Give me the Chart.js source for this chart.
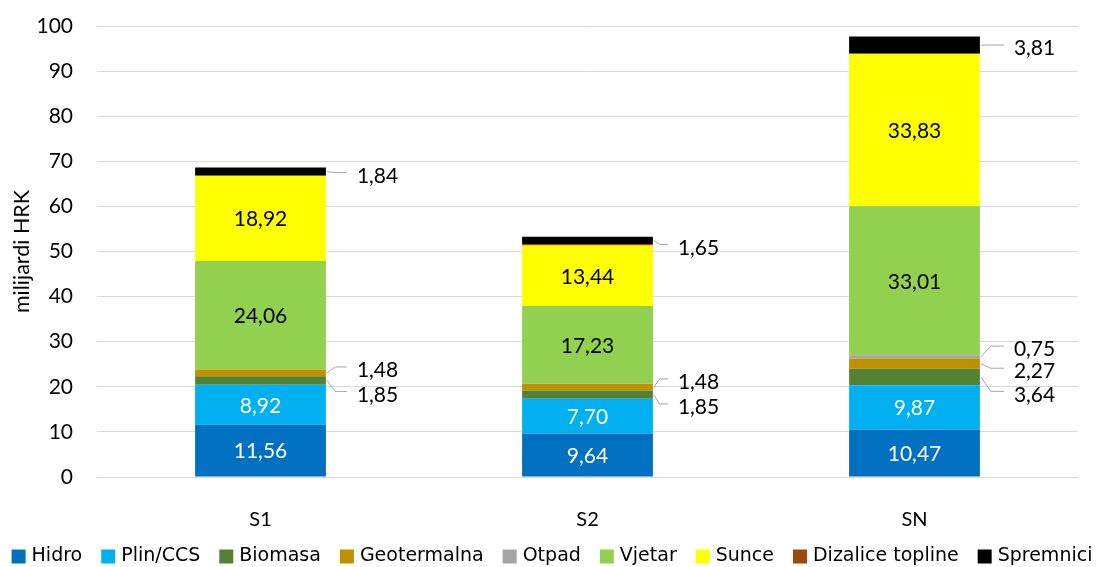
<!DOCTYPE html>
<html>
<head>
<meta charset="utf-8">
<script src="https://cdn.jsdelivr.net/npm/chart.js@4/dist/chart.umd.min.js"></script>
<style>
html,body{margin:0;padding:0;background:#fff;}
#wrap{width:1098px;height:567px;}
</style>
</head>
<body>
<div id="wrap"><canvas id="c" width="1098" height="567"></canvas></div>
<script>
// ---- data ----
const categories = ['S1', 'S2', 'SN'];
const seriesNames = ['Hidro', 'Plin/CCS', 'Biomasa', 'Geotermalna', 'Otpad', 'Vjetar', 'Sunce', 'Dizalice topline', 'Spremnici'];
const hidro       = [11.56, 9.64, 10.47];
const plinCCS     = [8.92, 7.70, 9.87];
const biomasa     = [1.85, 1.85, 3.64];
const geotermalna = [1.48, 1.48, 2.27];
const otpad       = [0, 0, 0.75];
const vjetar      = [24.06, 17.23, 33.01];
const sunce       = [18.92, 13.44, 33.83];
const dizalice    = [0, 0.3, 0];
const spremnici   = [1.84, 1.65, 3.81];
const yTicks = [0, 10, 20, 30, 40, 50, 60, 70, 80, 90, 100];

// ---- styles ----
const colors = ['#0070C0', '#00B0F0', '#548235', '#BF9000', '#A5A5A5', '#92D050', '#FFFF00', '#9E480E', '#000000'];
const values = [hidro, plinCCS, biomasa, geotermalna, otpad, vjetar, sunce, dizalice, spremnici];
// inside labels: dataset index -> text colour
const insideLabels = {0: '#FFFFFF', 1: '#FFFFFF', 5: '#000000', 6: '#000000'};
// outside labels with leader lines: per category, dataset index -> vertical offset (px) of label
const outsideLabels = [
  {dx: 31, items: {8: 3.5, 3: -3.5, 2: 13.5}},
  {dx: 25, items: {8: 6.6, 3: -5.7, 2: 11.8}},
  {dx: 34, items: {8: 2.3, 4: -8.3, 3: 7, 2: 16.8}}
];
const labelFont = '21px Lato, "Open Sans", sans-serif';

const fmt = v => v.toFixed(2).replace('.', ',');

const labelPlugin = {
  id: 'labels',
  afterDatasetsDraw(chart) {
    const ctx = chart.ctx;
    ctx.save();
    ctx.font = labelFont;
    ctx.textBaseline = 'middle';
    Object.keys(insideLabels).forEach(k => {
      const di = +k;
      const meta = chart.getDatasetMeta(di);
      meta.data.forEach((el, j) => {
        const v = chart.data.datasets[di].data[j];
        ctx.fillStyle = insideLabels[k];
        ctx.textAlign = 'center';
        ctx.fillText(fmt(v), el.x, (el.y + el.base) / 2 + 1);
      });
    });
    outsideLabels.forEach((cfg, j) => {
      Object.keys(cfg.items).forEach(k => {
        const di = +k;
        const el = chart.getDatasetMeta(di).data[j];
        const v = chart.data.datasets[di].data[j];
        const edge = el.x + el.width / 2;
        const segY = (el.y + el.base) / 2;
        const ly = segY + cfg.items[k];
        const lineY = ly - 2.5;
        const endX = edge + cfg.dx - 10;
        const elbowX = edge + (cfg.dx - 10) * 0.45;
        ctx.strokeStyle = '#A6A6A6';
        ctx.lineWidth = 1;
        ctx.beginPath();
        ctx.moveTo(edge + 1, segY);
        ctx.lineTo(elbowX, lineY);
        ctx.lineTo(endX, lineY);
        ctx.stroke();
        ctx.fillStyle = '#000000';
        ctx.textAlign = 'left';
        ctx.fillText(fmt(v), edge + cfg.dx, ly + 1);
      });
    });
    ctx.restore();
  }
};

const legendPlugin = {
  id: 'customLegend',
  afterDraw(chart) {
    const ctx = chart.ctx;
    ctx.save();
    ctx.font = '19px "DejaVu Sans", sans-serif';
    ctx.textBaseline = 'middle';
    const box = 14, boxGap = 6, itemGap = 19;
    const ds = chart.data.datasets;
    const widths = ds.map(d => ctx.measureText(d.label).width);
    let total = widths.reduce((a, b) => a + b, 0) + ds.length * (box + boxGap) + (ds.length - 1) * itemGap;
    let x = 552 - total / 2;
    const cy = 556.5;
    ds.forEach((d, i) => {
      ctx.fillStyle = d.backgroundColor;
      ctx.fillRect(x, cy - box / 2, box, box);
      x += box + boxGap;
      ctx.fillStyle = '#000000';
      ctx.textAlign = 'left';
      ctx.fillText(d.label, x, cy);
      x += widths[i] + itemGap;
    });
    ctx.restore();
  }
};

const datasets = seriesNames.map((name, i) => ({
  label: name,
  data: values[i],
  backgroundColor: colors[i],
  borderWidth: 0,
  barPercentage: 0.4,
  categoryPercentage: 1.0
}));

new Chart(document.getElementById('c'), {
  type: 'bar',
  data: {labels: categories, datasets: datasets},
  options: {
    responsive: false,
    animation: false,
    devicePixelRatio: 1,
    layout: {padding: {left: 0, right: 20, top: 26, bottom: 30}},
    plugins: {legend: {display: false}, tooltip: {enabled: false}},
    scales: {
      x: {
        stacked: true,
        grid: {display: false},
        border: {display: false},
        ticks: {font: {family: 'Lato', size: 20}, color: '#000000', padding: 23},
        afterFit(scale) { scale.height = 60; scale.paddingLeft = 0; scale.paddingRight = 0; }
      },
      y: {
        stacked: true,
        min: 0, max: 100,
        afterBuildTicks(scale) { scale.ticks = yTicks.map(v => ({value: v})); },
        grid: {color: '#D9D9D9', lineWidth: 1, drawTicks: false},
        border: {display: false},
        ticks: {font: {family: 'Lato', size: 21}, color: '#000000', padding: 24},
        title: {display: true, text: 'milijardi HRK', font: {family: 'Lato', size: 21.5}, color: '#000000', padding: {top: 9, bottom: 0}},
        afterFit(scale) { scale.width = 97; scale.paddingTop = 0; scale.paddingBottom = 0; }
      }
    }
  },
  plugins: [labelPlugin, legendPlugin]
});
</script>
</body>
</html>
